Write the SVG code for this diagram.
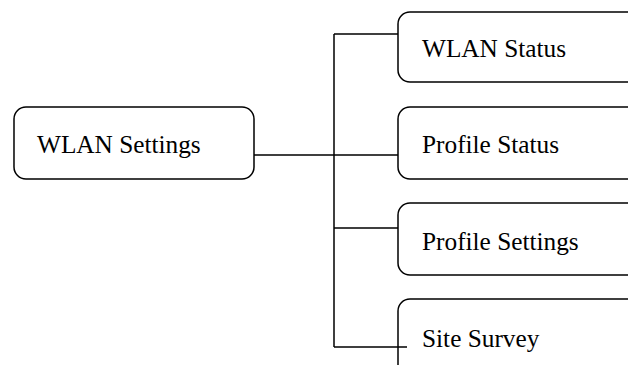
<svg xmlns="http://www.w3.org/2000/svg" width="628" height="365" viewBox="0 0 628 365">
<style>
.box{fill:#fff;stroke:#000;stroke-width:1.5}
.lbl{font-family:"Liberation Serif","Times New Roman",serif;font-size:25.3px;fill:#000}
.con{fill:none;stroke:#000;stroke-width:1.5}
</style>
<rect width="628" height="365" fill="#fff"/>
<g id="wlan-settings">
<rect class="box" x="14" y="107" width="240" height="72" rx="12"/>
<text class="lbl" x="37" y="153">WLAN Settings</text>
</g>
<g id="wlan-status">
<rect class="box" x="398" y="12" width="260" height="70" rx="12"/>
<text class="lbl" x="422" y="57">WLAN Status</text>
</g>
<g id="profile-status">
<rect class="box" x="398" y="107" width="260" height="72" rx="12"/>
<text class="lbl" x="422" y="153">Profile Status</text>
</g>
<g id="profile-settings">
<rect class="box" x="398" y="203" width="260" height="72" rx="12"/>
<text class="lbl" x="422" y="250">Profile Settings</text>
</g>
<g id="site-survey">
<rect class="box" x="398" y="299" width="260" height="100" rx="12"/>
<text class="lbl" x="422" y="347">Site Survey</text>
</g>
<g id="connectors">
<path class="con" d="M254 155H334M334 34V347M334 34H398M334 155H398M334 228H398M334 347H407"/>
</g>
</svg>
